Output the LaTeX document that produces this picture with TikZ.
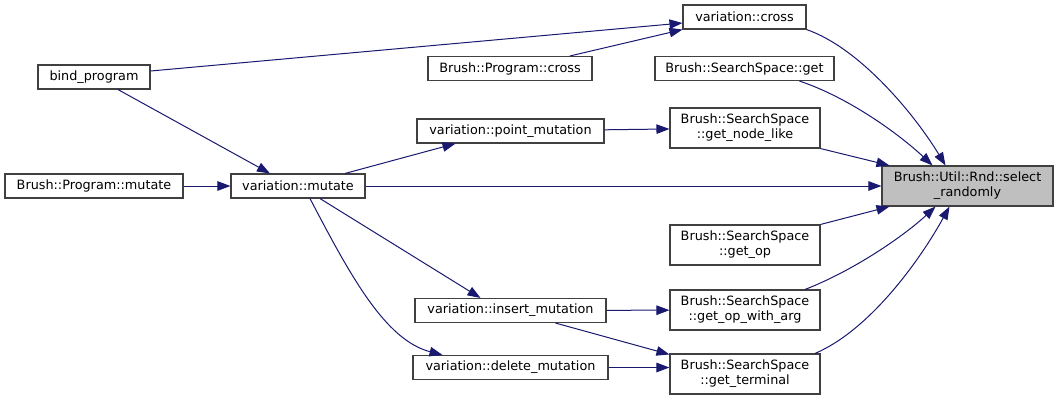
\documentclass[tikz,border=0pt]{standalone}
\usepackage{fontspec}
\setmainfont{DejaVu Sans}
\usetikzlibrary{arrows.meta,calc}
\definecolor{edgeblue}{RGB}{25,25,112}
\definecolor{boxline}{RGB}{64,64,64}
\definecolor{selfill}{RGB}{191,191,191}
\begin{document}
\begin{tikzpicture}[x=1pt,y=-1pt,
  box/.style={draw=boxline,line width=1.1pt,fill=white,inner sep=0pt,align=center,
    font=\fontsize{12.8}{15}\selectfont},
  one/.style={box,minimum height=24pt},
  two/.style={box,minimum height=40pt,minimum width=150pt},
  edge/.style={draw=edgeblue,line width=1pt,-{Triangle[length=13pt,width=9.5pt]}}
]
\useasboundingbox (0,0) rectangle (1059,402);
\node[one,minimum width=112pt] (bind) at (94,77) {bind\_program};
\node[one,minimum width=178pt] (pmut) at (94,186) {Brush::Program::mutate};
\node[one,minimum width=134pt] (vmut) at (298,186) {variation::mutate};
\node[one,minimum width=123pt] (vcross) at (744.5,17) {variation::cross};
\node[one,minimum width=164pt] (pcross) at (510,68.5) {Brush::Program::cross};
\node[one,minimum width=179pt] (get) at (744.5,68.5) {Brush::SearchSpace::get};
\node[one,minimum width=187pt] (point) at (510.5,131) {variation::point\_mutation};
\node[two] (nodelike) at (745,128) {Brush::SearchSpace\\::get\_node\_like};
\node[box,minimum width=171pt,minimum height=40pt,fill=selfill] (sel) at (967.5,186) {Brush::Util::Rnd::select\\\_randomly};
\node[two] (getop) at (745,245) {Brush::SearchSpace\\::get\_op};
\node[two] (opwarg) at (745,310) {Brush::SearchSpace\\::get\_op\_with\_arg};
\node[two] (term) at (745,374) {Brush::SearchSpace\\::get\_terminal};
\node[one,minimum width=191pt] (ins) at (510.5,310.5) {variation::insert\_mutation};
\node[one,minimum width=195pt] (del) at (510.5,367.5) {variation::delete\_mutation};

\draw[edge] (bind.east |- 0,71) -- (vcross.west |- 0,23);
\draw[edge] ($(bind.south)+(24,0)$) -- ($(vmut.north)+(-28,0)$);
\draw[edge] (pmut) -- (vmut);
\draw[edge] ($(pcross.north)+(60,0)$) -- (vcross.south west);
\draw[edge] ($(vmut.north)+(47,0)$) -- ($(point.south)+(-55,0)$);
\draw[edge] (vmut) -- (sel);
\draw[edge] ($(vmut.south)+(22,0)$) -- ($(ins.north)+(-30,0)$);
\draw[edge] ($(vmut.south)+(12,0)$) .. controls (350,275) and (385,340) .. ($(del.north)+(-68,0)$);
\draw[edge] (point) -- (nodelike);
\draw[edge] (ins) -- (opwarg);
\draw[edge] ($(ins.south)+(45,0)$) -- ($(term.north west)+(0,1)$);
\draw[edge] (del.east) -- (term.west |- del.east);
\draw[edge] (vcross.south east) .. controls (860,48) and (915,115) .. ($(sel.north)+(-22,0)$);
\draw[edge] ($(get.south)+(55,0)$) .. controls (850,98) and (900,135) .. ($(sel.north)+(-35,0)$);
\draw[edge] (nodelike.south east) -- ($(sel.north west)+(8,0)$);
\draw[edge] (getop.north east) -- ($(sel.south west)+(8,0)$);
\draw[edge] ($(opwarg.north)+(60,0)$) .. controls (855,270) and (905,235) .. ($(sel.south)+(-32,0)$);
\draw[edge] ($(term.north)+(70,0)$) .. controls (870,330) and (920,260) .. ($(sel.south)+(-18,0)$);
\end{tikzpicture}
\end{document}
